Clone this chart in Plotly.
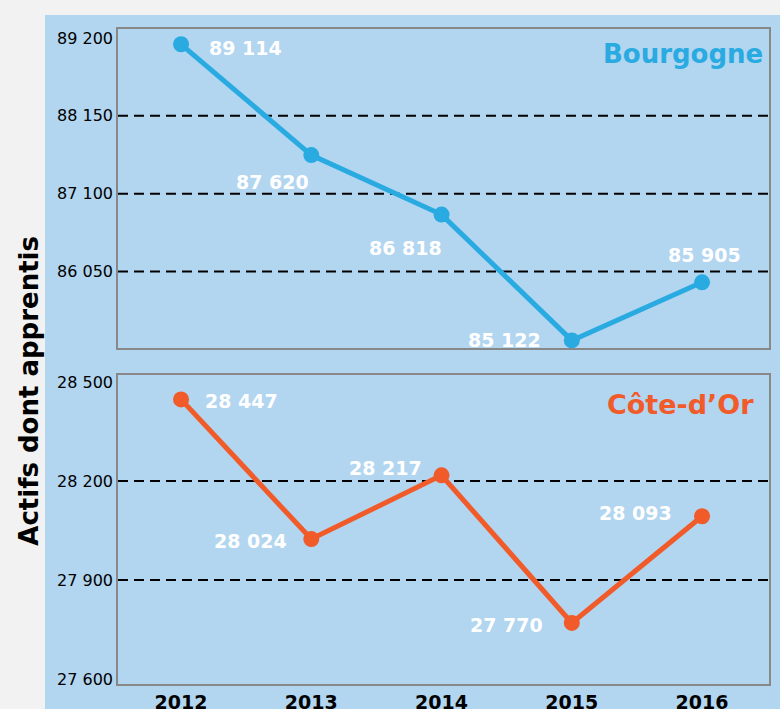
import plotly.graph_objects as go

years = [2012, 2013, 2014, 2015, 2016]
bourgogne = [89114, 87620, 86818, 85122, 85905]
cote_dor = [28447, 28024, 28217, 27770, 28093]
bourgogne_ticks = [89200, 88150, 87100, 86050]
cote_dor_ticks = [28500, 28200, 27900, 27600]
bourgogne_grid = [88150, 87100, 86050]
cote_dor_grid = [28200, 27900]
fmt = lambda v: f"{v:,}".replace(",", " ")

BLUE = "#29abe2"
ORANGE = "#f15a29"
PANEL = "#b2d5f0"
FONT = "DejaVu Sans"

# label offsets (style): (xshift, yshift, xanchor)
b_off = [(26, -4, "left"), (0, -27, "right"), (2, -33, "right"), (-29, 0, "right"), (2, 27, "center")]
c_off = [(22, -2, "left"), (-22, -2, "right"), (-18, 7, "right"), (-27, -2, "right"), (-28, 3, "right")]

fig = go.Figure()
fig.add_trace(go.Scatter(x=years, y=bourgogne, mode="lines+markers", xaxis="x", yaxis="y",
                         line=dict(color=BLUE, width=5), marker=dict(size=16, color=BLUE),
                         cliponaxis=False, showlegend=False, hoverinfo="skip"))
fig.add_trace(go.Scatter(x=years, y=cote_dor, mode="lines+markers", xaxis="x2", yaxis="y2",
                         line=dict(color=ORANGE, width=5), marker=dict(size=16, color=ORANGE),
                         cliponaxis=False, showlegend=False, hoverinfo="skip"))

ann = []
for x, v, (dx, dy, xa) in zip(years, bourgogne, b_off):
    ann.append(dict(x=x, y=v, xref="x", yref="y", text=fmt(v), showarrow=False,
                    xshift=dx, yshift=dy, xanchor=xa,
                    font=dict(family=FONT, size=19, color="white", weight="bold")))
for x, v, (dx, dy, xa) in zip(years, cote_dor, c_off):
    ann.append(dict(x=x, y=v, xref="x2", yref="y2", text=fmt(v), showarrow=False,
                    xshift=dx, yshift=dy, xanchor=xa,
                    font=dict(family=FONT, size=19, color="white", weight="bold")))
ann.append(dict(x=0.9945, y=0.995, xref="paper", yref="paper", text="Bourgogne", showarrow=False,
                xanchor="right", yanchor="top", yshift=-5,
                font=dict(family=FONT, size=26, color=BLUE, weight="bold")))
ann.append(dict(x=0.9795, y=0.468, xref="paper", yref="paper", text="Côte-d’Or", showarrow=False,
                xanchor="right", yanchor="top", yshift=-10,
                font=dict(family=FONT, size=27, color=ORANGE, weight="bold")))
ann.append(dict(x=-0.138, y=0.448, xref="paper", yref="paper", text="Actifs dont apprentis",
                showarrow=False, textangle=-90, xanchor="center", yanchor="middle",
                font=dict(family=FONT, size=26, color="black", weight="bold")))

shapes = [dict(type="rect", xref="paper", yref="paper", x0=-0.1121, x1=1.02, y0=-0.05, y1=1.0214,
               fillcolor=PANEL, line=dict(width=0), layer="below")]
for g in bourgogne_grid:
    shapes.append(dict(type="line", xref="x domain", yref="y", x0=0, x1=1, y0=g, y1=g,
                       line=dict(color="black", width=2, dash="10px,6px"), layer="below"))
for g in cote_dor_grid:
    shapes.append(dict(type="line", xref="x2 domain", yref="y2", x0=0, x1=1, y0=g, y1=g,
                       line=dict(color="black", width=2, dash="10px,6px"), layer="below"))

axis_common = dict(showline=True, mirror=True, linecolor="#888888", linewidth=1.5,
                   showgrid=False, zeroline=False, ticks="", automargin=False)
xrange_ = [2011.516, 2016.514]
fig.update_layout(
    width=780, height=709,
    margin=dict(l=118, r=11, t=29, b=25),
    paper_bgcolor="#f2f2f2", plot_bgcolor=PANEL,
    font=dict(family=FONT, color="black"),
    xaxis=dict(domain=[0, 1], anchor="y", range=xrange_, showticklabels=False, **axis_common),
    xaxis2=dict(domain=[0, 1], anchor="y2", range=xrange_, tickvals=years,
                ticktext=[str(y) for y in years],
                tickfont=dict(family=FONT, size=19, color="black", weight="bold"), **axis_common),
    yaxis=dict(domain=[0.513, 1.0], anchor="x", range=[85020, 89320], tickvals=bourgogne_ticks,
               ticktext=[fmt(t) for t in bourgogne_ticks], tickfont=dict(size=16), **axis_common),
    yaxis2=dict(domain=[0, 0.4718], anchor="x2", range=[27585, 28521], tickvals=cote_dor_ticks,
                ticktext=[fmt(t) for t in cote_dor_ticks], tickfont=dict(size=16), **axis_common),
    annotations=ann, shapes=shapes,
)
fig.write_html("out.html", config={"displayModeBar": False},
               post_script="document.body.style.margin='0';document.body.style.background='#f2f2f2';")
